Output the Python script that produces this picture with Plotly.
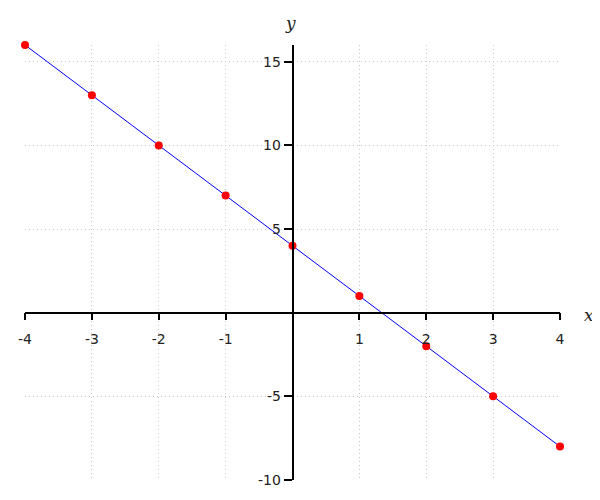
import plotly.graph_objects as go

x_vals = [-4, -3, -2, -1, 0, 1, 2, 3, 4]
y_vals = [16, 13, 10, 7, 4, 1, -2, -5, -8]
x_ticks = [-4, -3, -2, -1, 1, 2, 3, 4]
y_ticks = [-10, -5, 5, 10, 15]
x_grid = [-4, -3, -2, -1, 0, 1, 2, 3, 4]

x_range = [-4, 4]
y_range = [-10, 16]

fig = go.Figure()
fig.add_trace(go.Scatter(x=x_vals, y=y_vals, mode="lines", cliponaxis=False,
                         line=dict(color="blue", width=1), hoverinfo="skip"))
fig.add_trace(go.Scatter(x=x_vals, y=y_vals, mode="markers", cliponaxis=False,
                         marker=dict(color="red", size=8), hoverinfo="skip"))

y0_frac = (0 - y_range[0]) / (y_range[1] - y_range[0])
x0_frac = (0 - x_range[0]) / (x_range[1] - x_range[0])

tickfont = dict(family="DejaVu Sans", size=14, color="#222")

fig.update_layout(
    width=592, height=492,
    margin=dict(l=17, r=40, t=37, b=20, autoexpand=False),
    plot_bgcolor="white", paper_bgcolor="white",
    showlegend=False,
    xaxis=dict(range=x_range, tickvals=x_ticks, ticktext=[str(v) for v in x_ticks],
               anchor="free", position=y0_frac, automargin=False,
               showline=True, linecolor="black", linewidth=1.5,
               ticks="outside", ticklen=7, tickcolor="black", tickwidth=1.5,
               ticklabelstandoff=7,
               showgrid=False, zeroline=False, tickfont=tickfont),
    yaxis=dict(range=y_range, tickvals=y_ticks, ticktext=[str(v) for v in y_ticks],
               anchor="free", position=x0_frac, automargin=False,
               showline=True, linecolor="black", linewidth=1.5,
               ticks="outside", ticklen=8, tickcolor="black", tickwidth=1.5,
               showgrid=False, zeroline=False, tickfont=tickfont),
)

# dotted grid lines via hidden overlay axes
fig.update_layout(
    xaxis2=dict(range=x_range, overlaying="x", tickvals=x_grid, showgrid=True,
                griddash="1px,3px", gridcolor="#c8c8c8", gridwidth=1, automargin=False,
                showticklabels=False, zeroline=False, layer="below traces"),
    yaxis2=dict(range=y_range, overlaying="y", tickvals=y_ticks, showgrid=True,
                griddash="1px,3px", gridcolor="#c8c8c8", gridwidth=1, automargin=False,
                showticklabels=False, zeroline=False, layer="below traces"),
)
fig.add_trace(go.Scatter(x=[None], y=[None], xaxis="x2", yaxis="y2", showlegend=False))

axis_font = dict(family="DejaVu Serif", size=17, color="#222")
fig.add_annotation(x=0, y=1, xref="x", yref="paper", text="<i>y</i>",
                   showarrow=False, yanchor="bottom", yshift=10, xshift=-2, font=axis_font)
fig.add_annotation(x=1, y=0, xref="paper", yref="y", text="<i>x</i>",
                   showarrow=False, xanchor="left", xshift=22, yshift=-2, font=axis_font)

fig.write_html("out.html")
